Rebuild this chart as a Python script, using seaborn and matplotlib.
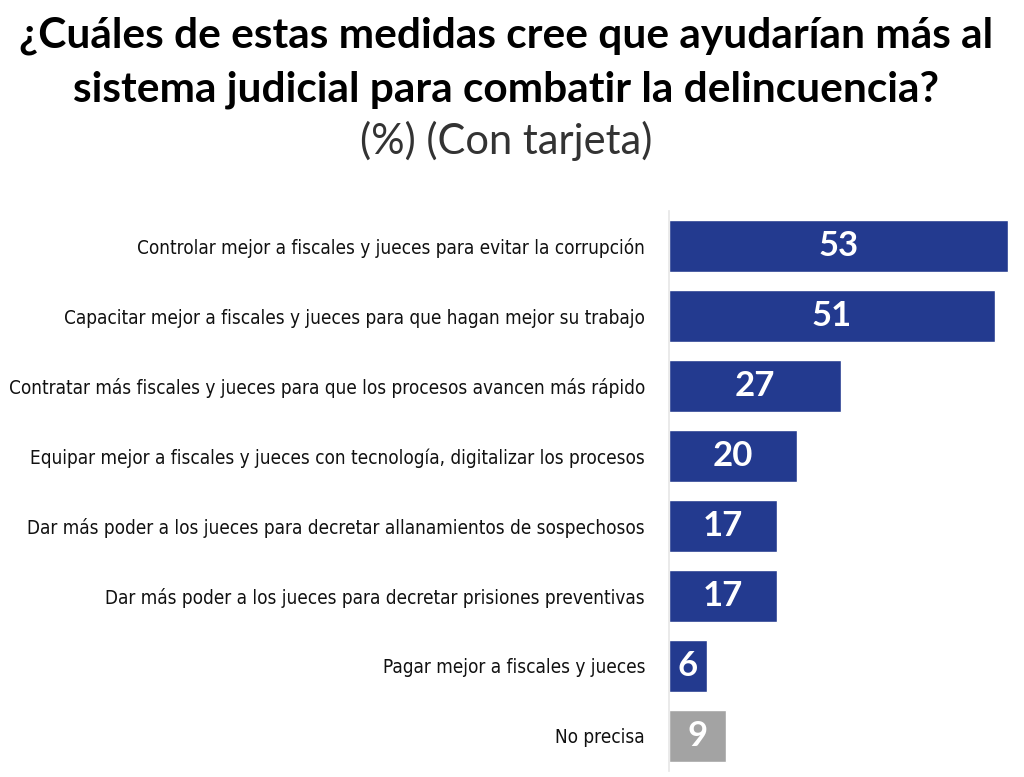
import matplotlib
matplotlib.use("Agg")
from matplotlib import pyplot as plt
import pandas as pd
import seaborn as sns

categories = [
    "Controlar mejor a fiscales y jueces para evitar la corrupción",
    "Capacitar mejor a fiscales y jueces para que hagan mejor su trabajo",
    "Contratar más fiscales y jueces para que los procesos avancen más rápido",
    "Equipar mejor a fiscales y jueces con tecnología, digitalizar los procesos",
    "Dar más poder a los jueces para decretar allanamientos de sospechosos",
    "Dar más poder a los jueces para decretar prisiones preventivas",
    "Pagar mejor a fiscales y jueces",
    "No precisa",
]
values = [53, 51, 27, 20, 17, 17, 6, 9]
bar_colors = ["#233a8f"] * 7 + ["#a3a3a3"]

df = pd.DataFrame({"medida": categories, "pct": values})

sns.set_style("white")
plt.rcParams["font.family"] = ["Lato", "DejaVu Sans"]

fig = plt.figure(figsize=(10.24, 7.77), dpi=100)
ax = fig.add_axes([0.653, 0.008, 0.335, 0.72])

sns.barplot(data=df, x="pct", y="medida", hue="medida", palette=bar_colors,
            legend=False, width=0.74, ax=ax, saturation=1)

ax.set_xlim(0, 53.6)
ax.set_xlabel("")
ax.set_ylabel("")
ax.set_xticks([])
ax.tick_params(axis="y", length=0, pad=17)
for lab in ax.get_yticklabels():
    lab.set_fontfamily(["DejaVu Sans"])
    lab.set_fontstretch("condensed")
    lab.set_fontsize(13.6)
    lab.set_color("#111111")

for side in ["top", "right", "bottom"]:
    ax.spines[side].set_visible(False)
ax.spines["left"].set_color("#e6e6e6")
ax.spines["left"].set_linewidth(1.2)

for cont in ax.containers:
    ax.bar_label(cont, label_type="center", color="white", fontsize=25,
                 fontweight="bold")

fig.text(0.494, 0.954, "¿Cuáles de estas medidas cree que ayudarían más al",
         ha="center", va="center", fontsize=30.5, fontweight="bold",
         color="black")
fig.text(0.494, 0.884, "sistema judicial para combatir la delincuencia?",
         ha="center", va="center", fontsize=30.5, fontweight="bold",
         color="black")
fig.text(0.494, 0.818, "(%) (Con tarjeta)", ha="center", va="center",
         fontsize=30, color="#333333")

fig.savefig("out.png", dpi=100)
